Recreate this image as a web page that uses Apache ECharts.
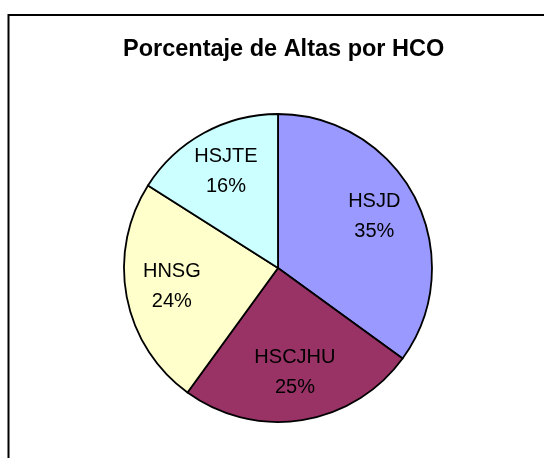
<!DOCTYPE html>
<html>
<head>
<meta charset="utf-8">
<script src="https://cdn.jsdelivr.net/npm/echarts@6/dist/echarts.min.js"></script>
<style>
html,body{margin:0;padding:0;background:#fff;}
#chart{width:544px;height:458px;}
</style>
</head>
<body>
<div id="chart"></div>
<script>
var categories = ['HSJD', 'HSCJHU', 'HNSG', 'HSJTE'];
var values = [35, 25, 24, 16];
var colors = ['#9999FF', '#993366', '#FFFFCC', '#CCFFFF'];
var titleText = 'Porcentaje de Altas por HCO';

var CX = 278, CY = 268, R = 154;
var LABEL_R = 104;

var chart = echarts.init(document.getElementById('chart'), null, {renderer: 'canvas'});
var data = categories.map(function (c, i) {
  return {name: c, value: values[i], itemStyle: {color: colors[i]}};
});
chart.setOption({
  backgroundColor: '#ffffff',
  animation: false,
  title: {
    text: titleText,
    left: 118,
    top: 33,
    textStyle: {fontFamily: 'Liberation Sans, Arial, sans-serif', fontWeight: 'bold', fontSize: 23.5, color: '#000'}
  },
  graphic: [{
    type: 'rect',
    shape: {x: 8.5, y: 15, width: 700, height: 700},
    style: {fill: 'none', stroke: '#000', lineWidth: 2},
    silent: true
  }],
  series: [{
    type: 'pie',
    center: [CX, CY],
    radius: R,
    startAngle: 90,
    clockwise: true,
    data: data,
    itemStyle: {borderColor: '#000', borderWidth: 1.8},
    label: {
      show: true,
      position: 'inside',
      formatter: function (p) { return p.name + '\n' + Math.round(p.percent) + '%'; },
      fontFamily: 'Liberation Sans, Arial, sans-serif',
      fontSize: 20,
      lineHeight: 30,
      color: '#000'
    },
    labelLine: {show: false},
    emphasis: {disabled: true},
    labelLayout: function (params) {
      var r = params.labelRect;
      var lx = r.x + r.width / 2, ly = r.y + r.height / 2;
      var k = LABEL_R / (R / 2) - 1;
      return {dx: (lx - CX) * k, dy: (ly - CY) * k - 2};
    }
  }]
});
</script>
</body>
</html>
